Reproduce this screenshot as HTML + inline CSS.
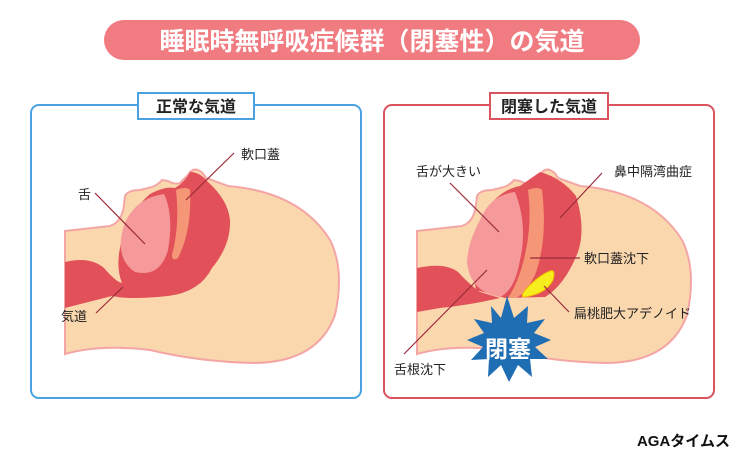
<!DOCTYPE html>
<html><head><meta charset="utf-8"><style>
body{margin:0;background:#fff;width:744px;height:465px;overflow:hidden}
svg{display:block}
text{font-family:"Liberation Sans","Noto Sans CJK JP",sans-serif}
</style></head><body>
<svg width="744" height="465" viewBox="0 0 744 465" xmlns="http://www.w3.org/2000/svg">
<rect x="104" y="20" width="536" height="40" rx="20" fill="#f07b80"/>
<text x="372" y="50" font-size="25" font-weight="bold" fill="#fff" text-anchor="middle">睡眠時無呼吸症候群（閉塞性）の気道</text>

<!-- left panel -->
<rect x="31" y="105" width="330" height="293" rx="8" fill="#fff" stroke="#4aa3e0" stroke-width="2"/>
<rect x="138" y="93" width="116" height="26" fill="#fff" stroke="#4aa3e0" stroke-width="2"/>
<text x="196" y="112" font-size="16" font-weight="bold" fill="#222" text-anchor="middle">正常な気道</text>

<path d="M65,231 L110,226 Q122,222 124,205 L125,196 Q128,190 140,190 L152,187 Q158,185 162,180 L168,181 Q175,185 180,183 L188,175 Q192,168 198,170 Q203,172 206,178 L228,186 Q300,192 330,240 Q345,270 335,315 Q318,362 255,363 Q200,362 150,350 Q100,344 65,354 Z" fill="#fad7ad" stroke="#f4a6a6" stroke-width="2"/>
<path d="M65,262 Q90,256 104,268 Q116,282 122,283 Q116,268 120,248 Q126,215 150,194 Q165,186 175,188 Q185,182 190,172 Q200,172 208,182 Q228,200 230,220 Q231,245 212,268 Q200,292 168,296 Q130,300 112,296 Q88,302 65,308 Z" fill="#e2505a"/>
<path d="M164,194 Q135,198 124,225 Q114,258 135,272 Q160,278 168,250 Q174,215 164,194 Z" fill="#f5999b"/>
<path d="M176,190 Q186,186 190,190 Q192,230 178,258 Q172,262 172,255 Q180,225 176,190 Z" fill="#f59776"/>
<g stroke="#9b2a3a" stroke-width="1.2">
<line x1="95" y1="193" x2="145" y2="244"/>
<line x1="234" y1="153" x2="186" y2="200"/>
<line x1="96" y1="313" x2="123" y2="287"/>
</g>
<g font-size="13" fill="#222">
<text x="78" y="199">舌</text>
<text x="241" y="159">軟口蓋</text>
<text x="61" y="321">気道</text>
</g>

<!-- right panel -->
<rect x="384" y="105" width="330" height="293" rx="8" fill="#fff" stroke="#d9545c" stroke-width="2"/>
<rect x="490" y="93" width="118" height="26" fill="#fff" stroke="#d9545c" stroke-width="2"/>
<text x="549" y="112" font-size="16" font-weight="bold" fill="#222" text-anchor="middle">閉塞した気道</text>

<path d="M417,231 L462,226 Q474,222 476,205 L477,196 Q480,190 492,190 L504,187 Q510,185 514,180 L520,181 Q527,185 532,183 L540,175 Q544,168 550,170 Q555,172 558,178 L580,186 Q652,192 682,240 Q697,270 687,315 Q670,362 607,363 Q552,362 502,350 Q452,344 417,354 Z" fill="#fad7ad" stroke="#f4a6a6" stroke-width="2"/>
<path d="M417,268 Q445,262 458,272 Q470,285 480,292 L500,298 Q470,305 440,308 L417,312 Z" fill="#e2505a"/>
<path d="M476,290 Q468,250 483,215 Q498,190 520,186 L540,172 Q562,178 576,196 Q586,228 578,252 Q565,285 545,297 L505,298 Z" fill="#e2505a"/>
<path d="M515,192 Q490,195 480,220 Q468,242 467,262 Q470,292 500,297 Q515,290 520,260 Q528,225 515,192 Z" fill="#f5999b"/>
<path d="M528,190 Q538,186 542,190 Q548,240 535,275 Q525,295 515,298 L508,298 Q520,280 526,250 Q532,220 528,190 Z" fill="#f59776"/>
<path d="M523,297 Q545,295 553,280 Q556,269 550,271 Q540,275 530,285 Q520,295 523,297 Z" fill="#f7ee1e" stroke="#f0c000" stroke-width="1"/>
<polygon fill="#1f6db3" points="507,296 514,318 528,306 527,323 545,319 534,333 551,340 535,347 548,359 530,359 532,377 518,365 509,382 501,365 488,377 489,359 471,360 483,347 467,340 484,333 474,319 492,323 491,306 501,318"/>
<text x="508" y="357" font-size="23" font-weight="bold" fill="#fff" text-anchor="middle">閉塞</text>
<g stroke="#9b2a3a" stroke-width="1.2">
<line x1="450" y1="183" x2="499" y2="232"/>
<line x1="602" y1="173" x2="560" y2="218"/>
<line x1="580" y1="258" x2="530" y2="258"/>
<line x1="569" y1="312" x2="544" y2="286"/>
<line x1="404" y1="354" x2="487" y2="270"/>
</g>
<g font-size="13" fill="#222">
<text x="416" y="176">舌が大きい</text>
<text x="614" y="176">鼻中隔湾曲症</text>
<text x="584" y="263">軟口蓋沈下</text>
<text x="574" y="318">扁桃肥大アデノイド</text>
<text x="394" y="374">舌根沈下</text>
</g>
<text x="730" y="446" font-size="15" font-weight="bold" fill="#111" text-anchor="end">AGAタイムス</text>
</svg>
</body></html>
